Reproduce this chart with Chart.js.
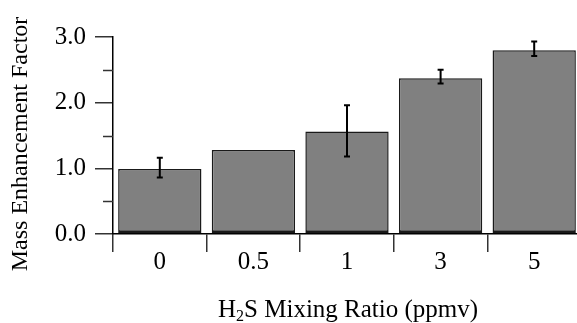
<!DOCTYPE html>
<html>
<head>
<meta charset="utf-8">
<script src="https://cdn.jsdelivr.net/npm/chart.js@4"></script>
<style>
  html, body { margin: 0; padding: 0; background: #fff; overflow: hidden; }
  #wrap { width: 577px; height: 323px; overflow: hidden; }
  canvas { display: block; }
</style>
</head>
<body>
<div id="wrap"><canvas id="chart" width="581" height="323"></canvas></div>
<script>
const categories = ['0', '0.5', '1', '3', '5'];
const enhancement = [0.99, 1.28, 1.56, 2.37, 2.80];
const errorLow = [0.86, null, 1.18, 2.29, 2.71];
const errorHigh = [1.16, null, 1.96, 2.50, 2.93];
const majorTicks = [0, 1, 2, 3];
const minorTicks = [0.5, 1.5, 2.5];

Chart.defaults.font.family = '"Liberation Serif", "Times New Roman", serif';
Chart.defaults.color = '#000';

// error bars, minor ticks and the axis titles
const extras = {
  id: 'extras',
  afterDatasetsDraw(chart) {
    const ctx = chart.ctx;
    const x = chart.scales.x;
    const y = chart.scales.y;
    ctx.save();
    ctx.strokeStyle = '#000';
    ctx.lineWidth = 2;
    categories.forEach((c, i) => {
      if (errorLow[i] == null) return;
      const px = x.getPixelForValue(i);
      const top = y.getPixelForValue(errorHigh[i]);
      const bot = y.getPixelForValue(errorLow[i]);
      ctx.beginPath();
      ctx.moveTo(px, top); ctx.lineTo(px, bot);
      ctx.moveTo(px - 3, top); ctx.lineTo(px + 3, top);
      ctx.moveTo(px - 3, bot); ctx.lineTo(px + 3, bot);
      ctx.stroke();
    });
    // minor ticks on the y axis
    ctx.lineWidth = 1.5;
    ctx.strokeStyle = '#333';
    minorTicks.forEach(v => {
      const py = Math.round(y.getPixelForValue(v)) + 0.5;
      ctx.beginPath();
      ctx.moveTo(y.right - 10, py); ctx.lineTo(y.right, py);
      ctx.stroke();
    });
    ctx.restore();
  },
  afterDraw(chart) {
    const ctx = chart.ctx;
    ctx.save();
    ctx.fillStyle = '#000';
    ctx.font = '24px "Liberation Serif"';
    ctx.textAlign = 'center';
    ctx.textBaseline = 'middle';
    ctx.translate(21, 144);
    ctx.rotate(-Math.PI / 2);
    ctx.fillText('Mass Enhancement Factor', 0, 0);
    ctx.restore();

    // x title with subscript 2
    ctx.save();
    ctx.fillStyle = '#000';
    ctx.textBaseline = 'alphabetic';
    ctx.textAlign = 'left';
    let cx = 218;
    const base = 317;
    ctx.font = '25px "Liberation Serif"';
    ctx.fillText('H', cx, base);
    cx += ctx.measureText('H').width;
    ctx.font = '16px "Liberation Serif"';
    ctx.fillText('2', cx, base + 4);
    cx += ctx.measureText('2').width;
    ctx.font = '25px "Liberation Serif"';
    ctx.fillText('S Mixing Ratio (ppmv)', cx, base);
    ctx.restore();
  }
};

new Chart(document.getElementById('chart'), {
  type: 'bar',
  data: {
    labels: categories,
    datasets: [{
      label: 'Mass Enhancement Factor',
      data: enhancement,
      backgroundColor: '#808080',
      borderColor: '#1a1a1a',
      borderWidth: { top: 1.5, left: 1.5, right: 1.5, bottom: 3 },
      borderSkipped: false,
      barPercentage: 0.89,
      categoryPercentage: 1.0
    }]
  },
  options: {
    responsive: false,
    animation: false,
    layout: { padding: { top: 37, left: 0, right: 0, bottom: 0 } },
    plugins: {
      legend: { display: false },
      tooltip: { enabled: false }
    },
    scales: {
      x: {
        afterFit: s => { s.height = 89; },
        grid: { offset: true, drawOnChartArea: false, tickLength: 18, color: '#333', lineWidth: 1.5 },
        border: { display: true, color: '#000', width: 1.5 },
        ticks: { font: { size: 25 }, padding: -5, color: '#000' }
      },
      y: {
        min: 0,
        max: 3,
        afterFit: s => { s.width = 113; },
        afterBuildTicks: s => { s.ticks = majorTicks.map(v => ({ value: v })); },
        grid: { drawOnChartArea: false, tickLength: 18, color: '#333', lineWidth: 1.5 },
        border: { display: true, color: '#000', width: 1.5 },
        ticks: {
          font: { size: 25 },
          padding: 9,
          color: '#000',
          callback: v => v.toFixed(1)
        }
      }
    }
  },
  plugins: [extras]
});
</script>
</body>
</html>
